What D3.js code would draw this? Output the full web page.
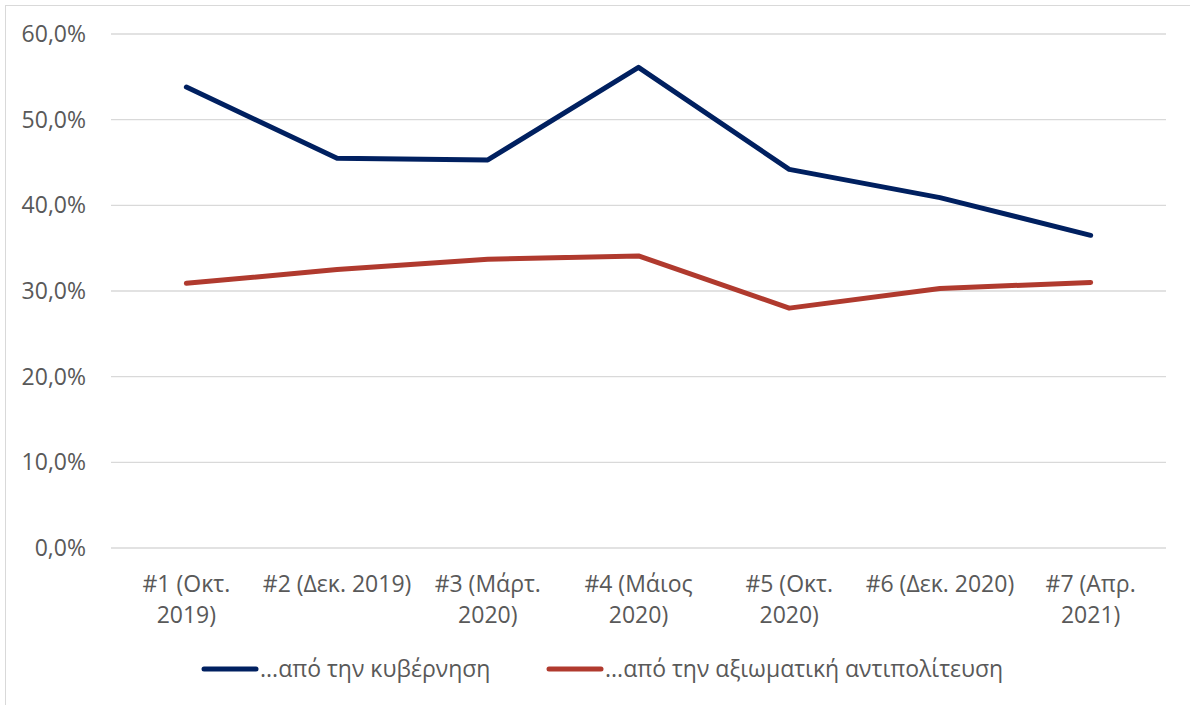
<!DOCTYPE html>
<html>
<head>
<meta charset="utf-8">
<script src="https://cdn.jsdelivr.net/npm/d3@7"></script>
<style>
  body { margin: 0; background: #fff; overflow: hidden; }
  svg { display: block; }
  text { font-family: "Open Sans", "Noto Sans", sans-serif; fill: #595959; }
</style>
</head>
<body>
<svg id="chart"></svg>
<script>
const width = 1190, height = 705;

// data
const categories = ["#1 (Οκτ. 2019)", "#2 (Δεκ. 2019)", "#3 (Μάρτ. 2020)", "#4 (Μάιος 2020)",
  "#5 (Οκτ. 2020)", "#6 (Δεκ. 2020)", "#7 (Απρ. 2021)"];
const catLines = [["#1 (Οκτ.", "2019)"], ["#2 (Δεκ. 2019)"], ["#3 (Μάρτ.", "2020)"], ["#4 (Μάιος", "2020)"],
  ["#5 (Οκτ.", "2020)"], ["#6 (Δεκ. 2020)"], ["#7 (Απρ.", "2021)"]];
const government = [53.8, 45.5, 45.3, 56.1, 44.2, 40.9, 36.5];
const opposition = [30.9, 32.5, 33.7, 34.1, 28.0, 30.3, 31.0];
const seriesNames = ["...από την κυβέρνηση", "...από την αξιωματική αντιπολίτευση"];
const seriesColors = ["#002060", "#b03a2e"];
const yTicks = [0, 10, 20, 30, 40, 50, 60];

const svg = d3.select("#chart")
  .attr("width", width)
  .attr("height", height);

// outer border
svg.append("rect")
  .attr("x", 5.5).attr("y", 5.5)
  .attr("width", width + 10).attr("height", height + 10)
  .attr("fill", "none")
  .attr("stroke", "#d9d9d9");

const plotLeft = 111, plotRight = 1166, plotTop = 34, plotBottom = 548;

const xScale = d3.scaleBand()
  .domain(categories)
  .range([plotLeft, plotRight]);

const yScale = d3.scaleLinear()
  .domain([0, 60])
  .range([plotBottom, plotTop]);

// grid lines
svg.append("g")
  .selectAll("line")
  .data(yTicks)
  .join("line")
  .attr("x1", plotLeft)
  .attr("x2", plotRight)
  .attr("y1", d => yScale(d))
  .attr("y2", d => yScale(d))
  .attr("stroke", "#d9d9d9")
  .attr("stroke-width", 1.3);

// y axis labels
const fmt = d => d.toFixed(1).replace(".", ",") + "%";
svg.append("g")
  .selectAll("text")
  .data(yTicks)
  .join("text")
  .attr("x", 86)
  .attr("y", d => yScale(d))
  .attr("dy", "0.35em")
  .attr("text-anchor", "end")
  .style("font-size", "23px")
  .text(fmt);

// x axis labels
const xLab = svg.append("g")
  .selectAll("text")
  .data(categories)
  .join("text")
  .attr("x", d => xScale(d) + xScale.bandwidth() / 2)
  .attr("y", 592)
  .attr("text-anchor", "middle")
  .style("font-size", "23px");

xLab.each(function(d, i) {
  const t = d3.select(this);
  catLines[i].forEach((ln, j) => {
    t.append("tspan")
      .attr("x", xScale(d) + xScale.bandwidth() / 2)
      .attr("dy", j === 0 ? 0 : 31)
      .text(ln);
  });
});

// lines
const line = d3.line()
  .x((d, i) => xScale(categories[i]) + xScale.bandwidth() / 2)
  .y(d => yScale(d));

[government, opposition].forEach((s, k) => {
  svg.append("path")
    .datum(s)
    .attr("d", line)
    .attr("fill", "none")
    .attr("stroke", seriesColors[k])
    .attr("stroke-width", 5)
    .attr("stroke-linecap", "round")
    .attr("stroke-linejoin", "round");
});

// legend
const legendX = [204, 549];
seriesNames.forEach((name, k) => {
  const g = svg.append("g").attr("transform", "translate(" + legendX[k] + ",669)");
  g.append("line")
    .attr("x1", 0).attr("x2", 52)
    .attr("stroke", seriesColors[k])
    .attr("stroke-width", 5)
    .attr("stroke-linecap", "round");
  g.append("text")
    .attr("x", 56)
    .attr("dy", "0.35em")
    .style("font-size", "23px")
    .text(name);
});
</script>
</body>
</html>
